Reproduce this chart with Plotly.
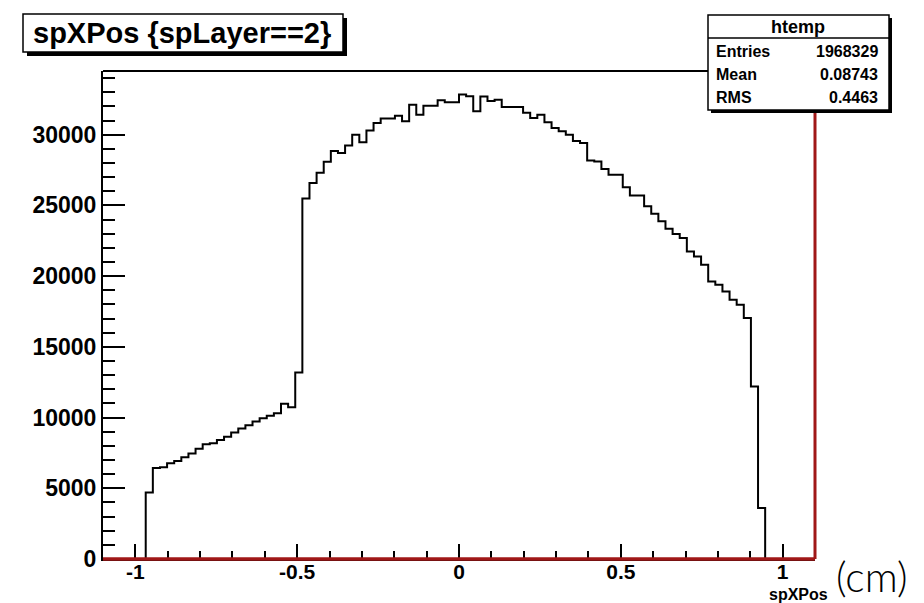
import numpy as np
import plotly.graph_objects as go

# ---------------- data ----------------
x_min, x_max, n_bins = -1.1, 1.1, 100
counts = [
    0, 0, 0, 0, 0, 0,
    4700, 6440, 6480, 6770, 6930, 7200, 7450, 7800, 8120, 8180,
    8420, 8650, 8940, 9220, 9460, 9720, 9950, 10120, 10310, 10970,
    10730, 13180, 25480, 26580, 27310, 28080, 28850, 28700, 29240, 30000,
    29460, 30300, 30830, 31140, 31140, 31330, 30940, 32120, 31410, 32050,
    32050, 32430, 32290, 32290, 32830, 32710, 31650, 32690, 32380, 32470,
    31960, 31960, 31960, 31540, 31180, 31410, 30880, 30470, 30240, 30000,
    29550, 29410, 28170, 28110, 27580, 27170, 27170, 26290, 25700, 25700,
    24930, 24400, 23870, 23340, 22980, 22690, 21740, 21390, 20800, 19620,
    19390, 18910, 18330, 17970, 17030, 12200, 3600,
    0, 0, 0, 0, 0, 0, 0,
]
title_text = "spXPos {spLayer==2}"
stats_name = "htemp"
stats_labels = ["Entries", "Mean", "RMS"]
stats_values = ["1968329", "0.08743", "0.4463"]
x_tick_vals = [-1, -0.5, 0, 0.5, 1]
x_tick_text = ["-1", "-0.5", "0", "0.5", "1"]
y_range_max = 34500
x_title = "spXPos"
unit_text = "(cm)"

# ---------------- geometry helpers ----------------
W, H = 924, 603
L, R, T, B = 103, 815, 71, 559


def px(x):
    return (x - L) / (R - L)


def py(y):
    return (B - y) / (B - T)


edges = np.linspace(x_min, x_max, n_bins + 1)
ys = list(counts) + [counts[-1]]

fig = go.Figure()
fig.add_trace(go.Scatter(
    x=edges, y=ys, mode="lines", line=dict(color="black", width=2, shape="hv"),
    hoverinfo="skip", showlegend=False, cliponaxis=False,
))

bold = dict(family="Liberation Sans, Arial, sans-serif", color="black", weight="bold")

fig.update_layout(
    width=W, height=H,
    margin=dict(l=L, r=W - R, t=T, b=H - B, pad=0),
    paper_bgcolor="white", plot_bgcolor="white",
    showlegend=False,
    xaxis=dict(
        range=[x_min, x_max], showgrid=False, zeroline=False,
        tickmode="array", tickvals=x_tick_vals, ticktext=x_tick_text,
        ticks="inside", ticklen=15, tickwidth=1.5, tickcolor="black",
        tickfont=dict(size=21, **bold), ticklabelstandoff=-7,
        showline=True, linecolor="black", linewidth=2,
        minor=dict(ticks="inside", ticklen=8, tickwidth=1.5, tickcolor="black",
                   tickvals=[round(v, 2) for v in np.arange(-1.1, 1.11, 0.1)],
                   showgrid=False),
    ),
    yaxis=dict(
        range=[0, y_range_max], showgrid=False, zeroline=False,
        tickmode="linear", tick0=0, dtick=5000, tickformat="d",
        ticks="inside", ticklen=22, tickwidth=1.5, tickcolor="black",
        tickfont=dict(size=23, **bold),
        showline=True, linecolor="black", linewidth=2,
        minor=dict(ticks="inside", ticklen=12, tickwidth=1.5, tickcolor="black",
                   dtick=1000, tick0=0, showgrid=False),
    ),
)

shapes = []
# plot frame top line
shapes.append(dict(type="line", xref="paper", yref="paper", x0=0, x1=1, y0=1, y1=1,
                   line=dict(color="black", width=2), layer="above"))
# red right and bottom borders
shapes.append(dict(type="line", xref="paper", yref="paper", x0=1, x1=1, y0=0, y1=1,
                   line=dict(color="#a01818", width=3), layer="above"))
shapes.append(dict(type="line", xref="paper", yref="paper", x0=0, x1=1, y0=0, y1=0,
                   line=dict(color="#a01818", width=3.5), layer="above"))


def box(x0, y0, x1, y1, off=4):
    shapes.append(dict(type="rect", xref="paper", yref="paper",
                       x0=px(x0 + off), x1=px(x1 + off), y0=py(y0 + off), y1=py(y1 + off),
                       fillcolor="black", line=dict(width=0), layer="above"))
    shapes.append(dict(type="rect", xref="paper", yref="paper",
                       x0=px(x0), x1=px(x1), y0=py(y0), y1=py(y1),
                       fillcolor="white", line=dict(color="black", width=1.5), layer="above"))


box(23, 14, 343, 52)
box(708, 15, 889, 110, off=3)
shapes.append(dict(type="line", xref="paper", yref="paper", x0=px(708), x1=px(889),
                   y0=py(38), y1=py(38), line=dict(color="black", width=1.5), layer="above"))
fig.update_layout(shapes=shapes)

ann = []
ann.append(dict(text=title_text, xref="paper", yref="paper", x=px(182), y=py(33),
                xanchor="center", yanchor="middle", showarrow=False,
                font=dict(size=29, **bold)))
ann.append(dict(text=stats_name, xref="paper", yref="paper", x=px(798), y=py(27),
                xanchor="center", yanchor="middle", showarrow=False,
                font=dict(size=18, **bold)))
for lab, val, yy in zip(stats_labels, stats_values, [51, 74, 98]):
    ann.append(dict(text=lab, xref="paper", yref="paper", x=px(714), y=py(yy),
                    xanchor="left", yanchor="middle", showarrow=False,
                    font=dict(size=16, **bold)))
    ann.append(dict(text=val, xref="paper", yref="paper", x=px(880), y=py(yy),
                    xanchor="right", yanchor="middle", showarrow=False,
                    font=dict(size=16, **bold)))
ann.append(dict(text=x_title, xref="paper", yref="paper", x=px(830), y=py(594),
                xanchor="right", yanchor="middle", showarrow=False,
                font=dict(size=16, **bold)))
ann.append(dict(text=unit_text, xref="paper", yref="paper", x=px(872), y=py(576),
                xanchor="center", yanchor="middle", showarrow=False,
                font=dict(size=41, family="Lato, Liberation Sans, sans-serif",
                          color="black", weight=300)))
fig.update_layout(annotations=ann)

fig.write_html("out.html")
